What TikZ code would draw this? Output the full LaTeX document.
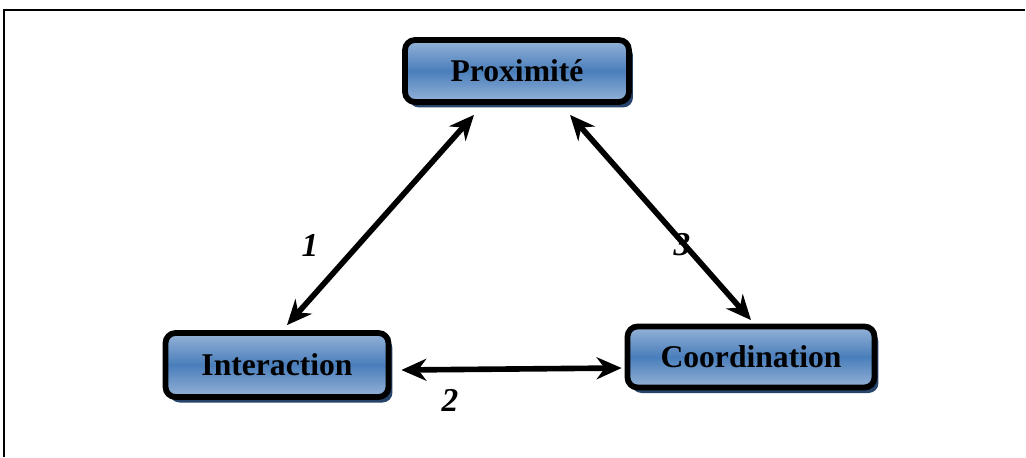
\documentclass[tikz,border=0pt]{standalone}
\usepackage{fontspec}
\setmainfont{Liberation Serif}
\usetikzlibrary{arrows.meta,positioning,shadows}
\definecolor{boxlight}{HTML}{95B3D7}
\definecolor{boxmid}{HTML}{4A7EBB}
\definecolor{boxshadow}{HTML}{27446B}
\pgfdeclareverticalshading{conceptshade}{100bp}{color(0bp)=(boxlight); color(25bp)=(boxlight); color(50bp)=(boxmid); color(75bp)=(boxlight); color(100bp)=(boxlight)}
\tikzset{concept/.style={
    % The shape:
    rectangle,rounded corners=2mm,
    % The border:
    line width=3.3pt,
    draw=black,
    % The filling:
    shade, shading=conceptshade,
    % The shadow:
    drop shadow={shadow xshift=0.8mm,shadow yshift=-1.1mm,fill=boxshadow,opacity=1},
    % Font
    font=\fontsize{18}{21}\selectfont\bfseries
    },
    link/.style={
    line width=3.2pt,
    {Stealth[length=5mm,width=4.4mm]}-{Stealth[length=5mm,width=4.4mm]},
    },
    linknum/.style={
    font=\fontsize{19}{22}\selectfont\bfseries\itshape,
    },
}

\begin{document}
\begin{tikzpicture}[x=0.02cm,y=-0.02cm]
    \useasboundingbox (0,0) rectangle (1026,457);
    \draw[line width=0.8pt] (4,457) |- (1025,10);

    \node (prox)  [concept,minimum width=44.8mm,minimum height=12.4mm] at (517,71)  {Proximité};
    \node (inter) [concept,minimum width=44.6mm,minimum height=12.8mm] at (277,365) {Interaction};
    \node (coord) [concept,minimum width=49.4mm,minimum height=12.2mm] at (751,357) {Coordination};

    \draw[link] ([xshift=-8.6mm,yshift=-2mm]prox.south) -- ([xshift=2mm,yshift=1mm]inter.north);
    \draw[link] ([xshift=10.6mm,yshift=-2mm]prox.south) -- ([yshift=0.7mm]coord.north);
    \draw[link] ([xshift=2mm,yshift=-1mm]inter.east) -- ([xshift=-0.6mm,yshift=-2.2mm]coord.west);

    \node (num1) [linknum] at (310,245) {1};
    \node (num2) [linknum] at (450,400) {2};
    \node (num3) [linknum] at (682,245) {3};
\end{tikzpicture}
\end{document}
